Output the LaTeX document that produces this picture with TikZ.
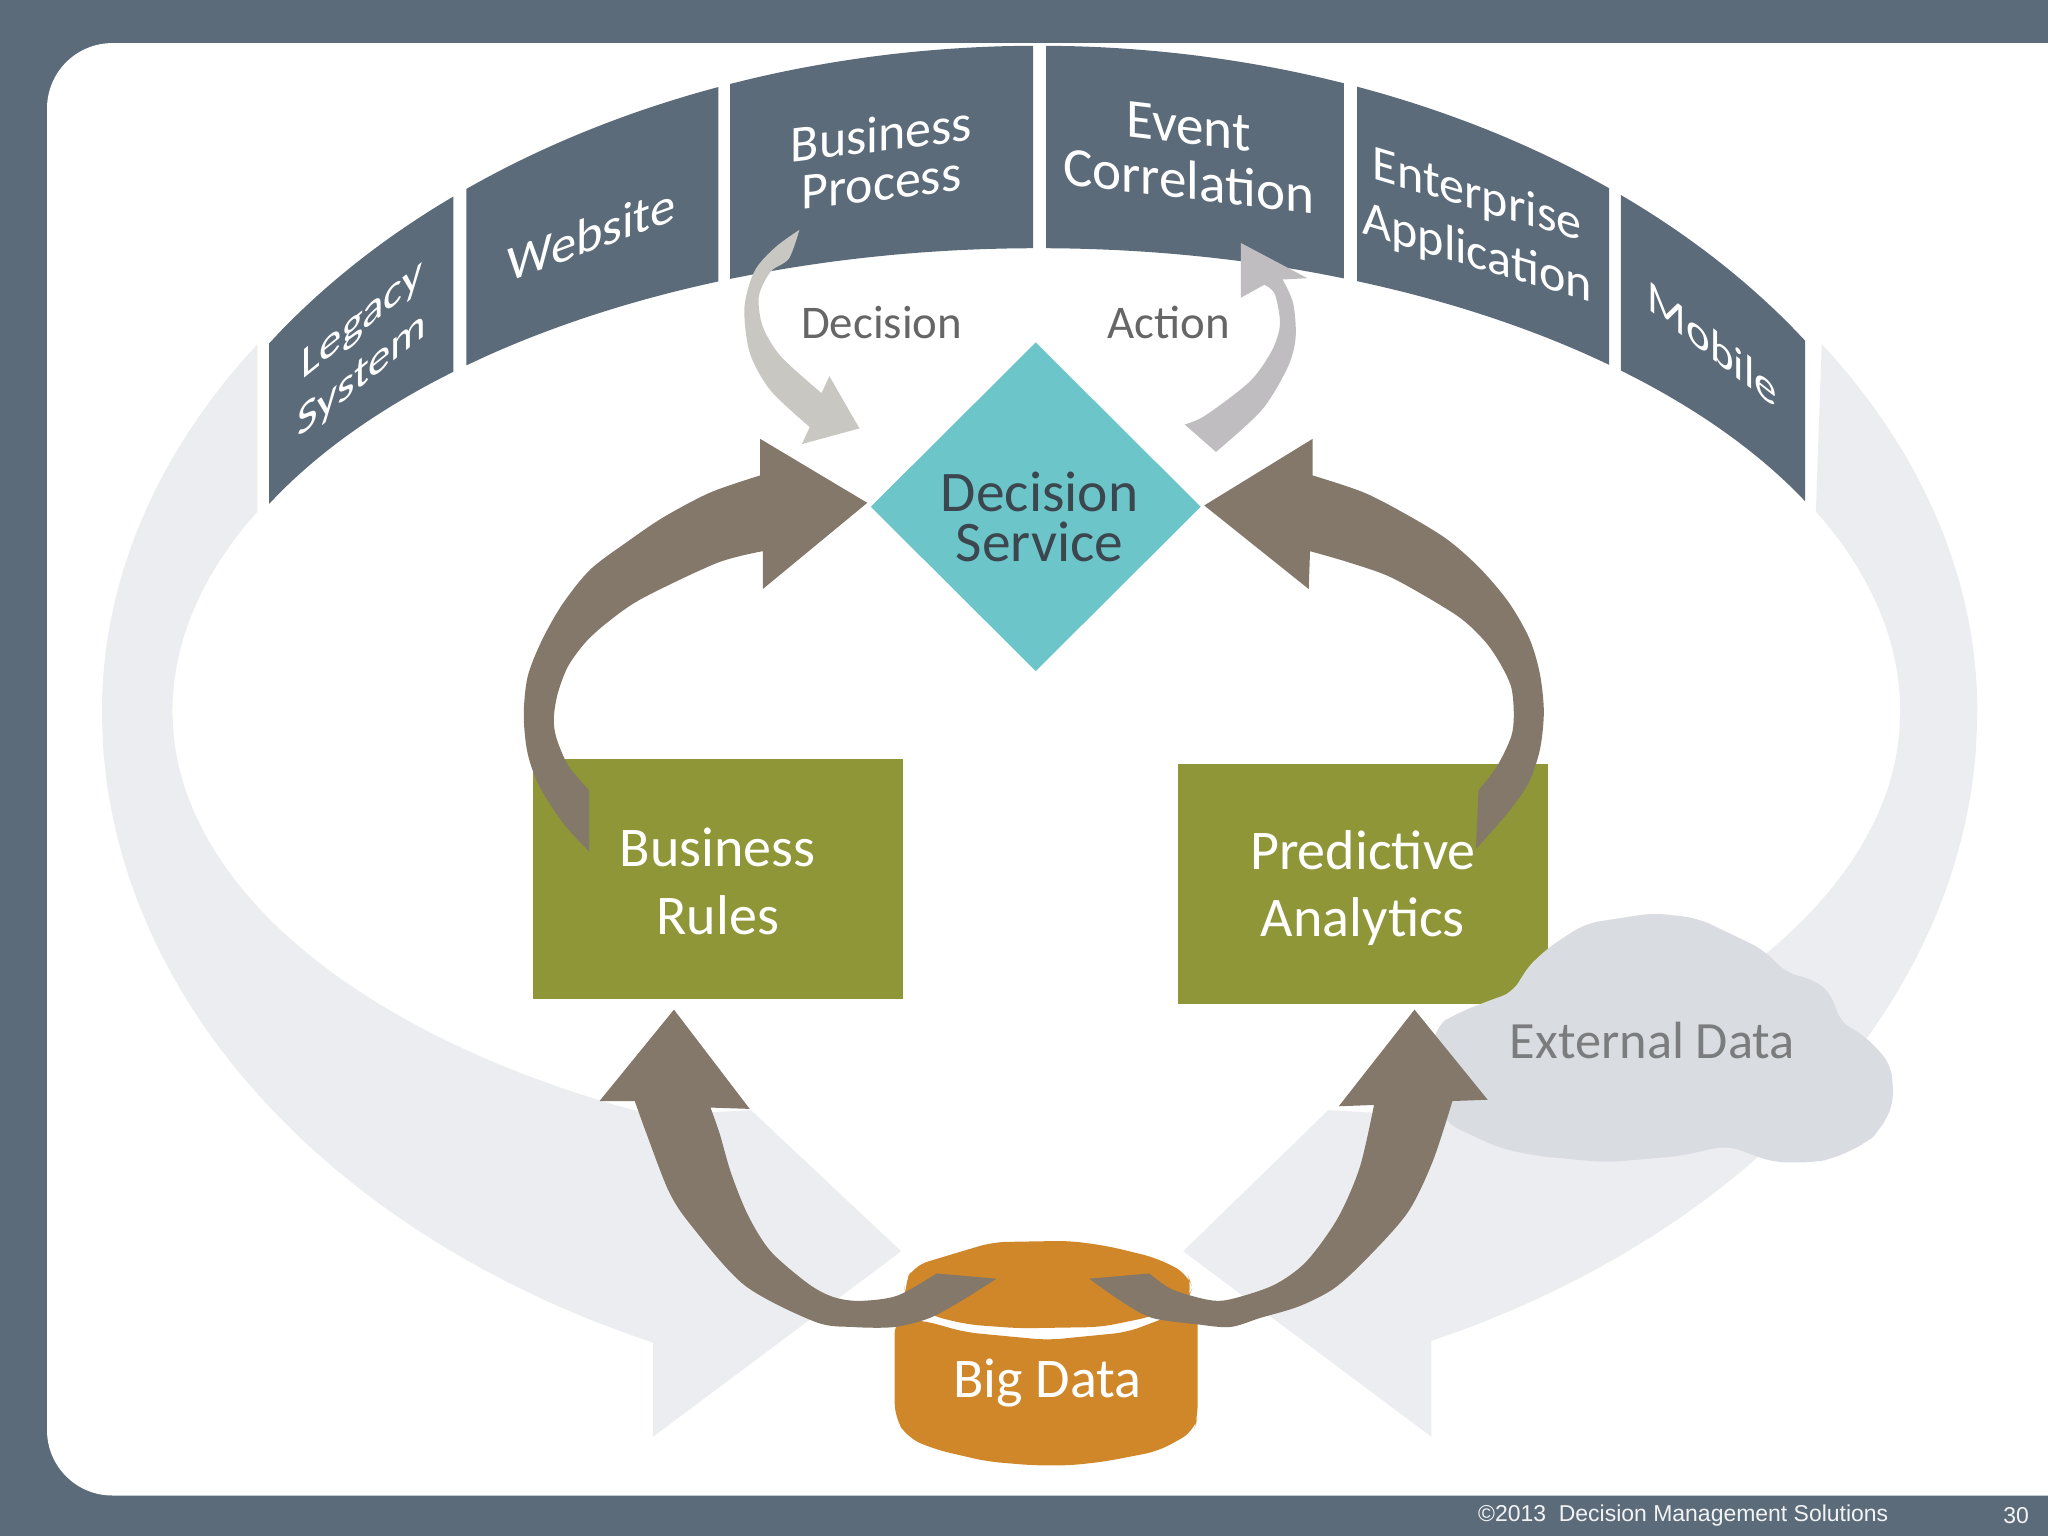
\documentclass[tikz,border=0pt]{standalone}
\usepackage{fontspec}
\setmainfont{Carlito}
\newfontfamily\footerfont{Liberation Sans}
\usetikzlibrary{positioning, shapes.geometric}
\definecolor{slate}{HTML}{5C6B7A}
\definecolor{ghost}{HTML}{ECEDF0}
\definecolor{cloud-grey}{HTML}{D9DCE1}
\definecolor{box-green}{HTML}{8F9638}
\definecolor{diamond-teal}{HTML}{6CC5C8}
\definecolor{arrow-brown}{HTML}{83786A}
\definecolor{flow-grey}{HTML}{C8C7C2}
\definecolor{action-grey}{HTML}{BFBDBF}
\definecolor{data-orange}{HTML}{D0872A}
\tikzset{
  % Band text keeps its letters nearly upright, so it is slanted, not turned
  bandlabel/.style={text=white, align=center, inner sep=0pt, transform shape, yslant=#1},
  boxlabel/.style={text=white, align=center, inner sep=0pt, font=\fontsize{12.2}{14.7}\selectfont},
  greenbox/.style={fill=box-green, minimum width=2.83cm, minimum height=1.84cm, inner sep=0pt},
  flowlabel/.style={text=black!60, inner sep=0pt, font=\fontsize{10.2}{12}\selectfont},
  footerlabel/.style={text=white!92!slate, inner sep=0pt, font=\footerfont\fontsize{5}{6}\selectfont}
}

\begin{document}
\begin{tikzpicture}[x=0.01cm, y=-0.01cm, every plot/.style={smooth, tension=0.5}]
  \useasboundingbox (0,0) rectangle (1568,1176);

  % ---- Slide background ---------------------------------------------------
  \fill[slate] (0,0) rectangle (1568,1176);
  \fill[white, rounded corners=0.5cm] (36,33) rectangle (1700,1145);

  % ---- Faint ring arrows --------------------------------------------------
  \foreach \flip/\shift/\hx/\tx/\ia in {1/0/500/690/663, -1/15.91/496/686/658}{
    \begin{scope}[xshift=\shift cm, xscale=\flip]
      \fill[ghost]
        plot[variable=\t, domain=146.5:180, samples=20] ({795+717*cos(\t)}, {545-510*sin(\t)})
        -- plot[variable=\t, domain=180:245.7, samples=20] ({795+717*cos(\t)}, {545-530*sin(\t)})
        -- (\hx,1027) -- (\hx,1100) -- (\tx,958) -- (575,850)
        -- plot[variable=\t, domain=243.6:180, samples=20] ({795+\ia*cos(\t)}, {545-345*sin(\t)})
        -- plot[variable=\t, domain=180:154.4, samples=20] ({795+\ia*cos(\t)}, {545-355*sin(\t)})
        -- cycle;
    \end{scope}
  }

  % ---- Band of source systems ---------------------------------------------
  \foreach \xa/\xb in {206/347, 357/550, 559/791, 801/1029, 1039/1232, 1241/1382}{
    \pgfmathsetmacro{\ta}{acos((\xa-795)/707)}
    \pgfmathsetmacro{\tb}{acos((\xb-795)/707)}
    \pgfmathsetmacro{\ua}{acos((\xa-795)/659)}
    \pgfmathsetmacro{\ub}{acos((\xb-795)/659)}
    \fill[slate]
      plot[variable=\t, domain=\ta:\tb, samples=12] ({795+707*cos(\t)}, {545-510*sin(\t)})
      -- plot[variable=\t, domain=\ub:\ua, samples=12] ({795+659*cos(\t)}, {545-355*sin(\t)})
      -- cycle;
  }
  \node[bandlabel=0.8, font=\fontsize{9.7}{11.9}\selectfont] (legacy) at (277,267) {Legacy\\System};
  \node[bandlabel=0.37, font=\fontsize{11}{12}\selectfont] (website) at (453,179) {Website};
  \node[bandlabel=0.12, font=\fontsize{11.3}{10.6}\selectfont] (bizprocess) at (675,121) {Business\\Process};
  \node[bandlabel=-0.12, font=\fontsize{12}{12}\selectfont] (eventcorr) at (910,118) {Event\\Correlation};
  \node[bandlabel=-0.3, font=\fontsize{10.9}{12.7}\selectfont] (enterprise) at (1131,173) {Enterprise\\Application};
  \node[bandlabel=-0.78, font=\fontsize{9.8}{12}\selectfont] (mobile) at (1311,263) {Mobile};

  % ---- Green boxes, then the cloud over the corner of one -----------------
  \node[greenbox] (rules) at (549.5,673) {};
  \node[greenbox] (analytics) at (1043.5,677) {};
  \fill[cloud-grey, rounded corners=3pt] (1160,759) -- (1167,743) -- (1186,725) -- (1214,707) -- (1266,699)
    -- (1300,703) -- (1350,727) -- (1369,746) -- (1388,749) -- (1404,763) -- (1407,781)
    -- (1429,794) -- (1448,815) -- (1450,845) -- (1439,866) -- (1429,875) -- (1404,887)
    -- (1388,890) -- (1358,890) -- (1322,877) -- (1287,885) -- (1230,890) -- (1176,885)
    -- (1148,879) -- (1107,860) -- (1095,830) -- (1099,786) -- (1113,777) -- (1135,768) -- cycle;
  \node[text=black!45!cloud-grey!60!gray, inner sep=0pt, font=\fontsize{11.4}{14}\selectfont] (external) at (1265,797) {External Data};

  % ---- Decision service ---------------------------------------------------
  \node[diamond, fill=diamond-teal, aspect=1, minimum width=2.53cm, minimum height=2.52cm,
        inner sep=0pt] (service) at (793,388) {};
  \node[align=center, inner sep=0pt, text=slate!65!black, font=\fontsize{12.5}{10.8}\selectfont]
        (servicelabel) at (796,396) {Decision\\Service};

  % ---- Decision and action flows ------------------------------------------
  \fill[flow-grey] plot coordinates {(612,176) (604,198) (590,208) (581,227) (584,250) (598,273) (629,301)}
    -- (635,288) -- (658,328) -- (614,340) -- (620,327)
    -- plot coordinates {(620,327) (590,299) (574,270) (570,235) (578,207) (594,189) (612,176)} -- cycle;
  \fill[action-grey] plot coordinates {(907,325) (923,318) (957,292) (974,268) (980,248) (976,225) (968,218)}
    -- (950,228) -- (950,186) -- (1001,213) -- (982,214)
    -- plot coordinates {(982,214) (990,232) (992,258) (986,281) (966,314) (931,346)} -- cycle;
  \node[flowlabel] (decision) at (675,247) {Decision};
  \node[flowlabel] (action) at (895,247) {Action};

  % ---- Big data cylinder --------------------------------------------------
  \fill[data-orange, rounded corners=3pt] (685,1010) -- (707,1011) -- (739,1020) -- (802,1026) -- (863,1020)
    -- (892,1009) -- (917,1000) -- (917,1085) -- (914,1096) -- (887,1111) -- (846,1119)
    -- (819,1122) -- (792,1122) -- (756,1119) -- (717,1110) -- (695,1101) -- (685,1085) -- cycle;
  \fill[data-orange, rounded corners=3pt] (692,983) -- (700,969) -- (760,951) -- (819,950) -- (848,954) -- (885,963)
    -- (909,975) -- (913,986) -- (909,996) -- (882,1008) -- (843,1016) -- (780,1017)
    -- (740,1014) -- (712,1007) -- (694,995) -- cycle;
  \node[boxlabel] (bigdata) at (802,1059) {Big Data};

  % ---- Brown arrows -------------------------------------------------------
  \fill[arrow-brown] plot coordinates {(451,652) (431,630) (413,602) (404,577) (401,548) (404,518) (415,490)
      (431,462) (452,436) (480,415) (508,396) (544,377) (582,364)}
    -- (582,336) -- (664,385) -- (584,451)
    -- plot coordinates {(584,422) (549,431) (492,458) (467,475) (449,491) (435,510) (427,531) (424,550)
      (426,565) (435,586) (451,605)} -- cycle;
  \fill[arrow-brown] plot coordinates {(1130,650) (1153,624) (1170,600) (1179,574) (1182,545) (1179,516) (1171,489)
      (1155,461) (1133,435) (1108,413) (1077,394) (1044,377) (1005,364)}
    -- (1005,336) -- (922,387) -- (1002,451)
    -- plot coordinates {(1003,422) (1034,431) (1067,443) (1115,471) (1136,490) (1148,507) (1157,526) (1159,547)
      (1157,564) (1146,587) (1132,605)} -- cycle;
  \fill[arrow-brown] (516,773) -- (459,843)
    -- plot coordinates {(486,843) (495,868) (512,912) (529,938) (570,984) (624,1012) (653,1016) (685,1016) (712,1009) (736,996) (763,979)}
    -- plot coordinates {(717,975) (687,992) (658,996) (638,993) (619,983) (590,958) (573,931) (560,899) (551,868) (544,848)}
    -- (574,849) -- cycle;
  \fill[arrow-brown] (1083,773) -- (1025,847)
    -- plot coordinates {(1052,846) (1041,894) (1024,933) (1000,966) (975,984) (941,995) (924,995) (897,987) (880,975)}
    -- plot coordinates {(834,979) (858,996) (882,1009) (917,1014) (942,1016) (965,1009) (995,1000) (1022,986) (1048,962) (1078,928) (1097,889) (1112,843)}
    -- (1139,842) -- cycle;

  % ---- Box labels on top of the arrow tails -------------------------------
  \node[boxlabel] (ruleslabel) at (549.5,675) {Business\\Rules};
  \node[boxlabel] (analyticslabel) at (1043.5,680) {Predictive\\Analytics};

  % ---- Footer -------------------------------------------------------------
  \node[footerlabel, anchor=west] (copyright) at (1131,1160) {©2013\ \ Decision Management Solutions};
  \node[footerlabel, anchor=east] (pagenum) at (1554,1160) {30};
\end{tikzpicture}
\end{document}
